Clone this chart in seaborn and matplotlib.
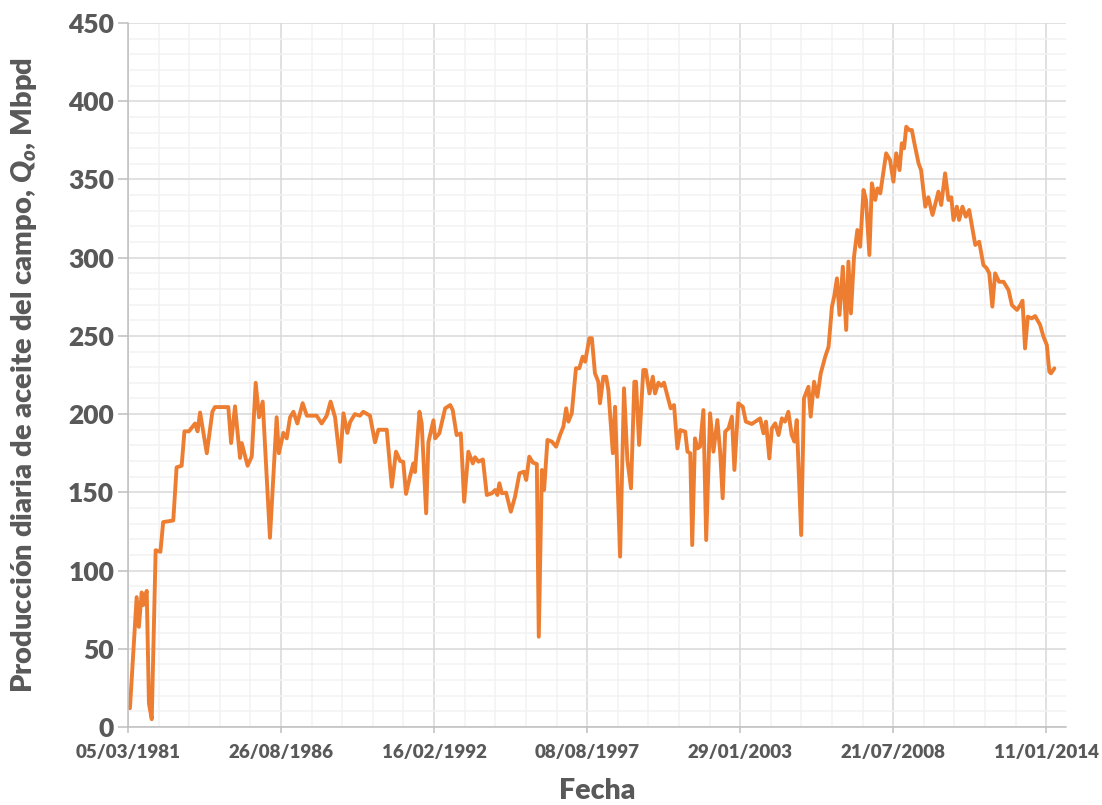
import matplotlib
matplotlib.use("Agg")
import matplotlib.pyplot as plt
import matplotlib.dates as mdates
import matplotlib.ticker as mticker
import numpy as np
import pandas as pd
import seaborn as sns

# fecha en años decimales
anio = [
    1981.24, 1981.48, 1981.56, 1981.66, 1981.72, 1981.84, 1981.92, 1982.02, 1982.16, 1982.33,
    1982.43, 1982.79, 1982.91, 1983.09, 1983.19, 1983.35, 1983.57, 1983.66, 1983.75, 1983.99,
    1984.19, 1984.28, 1984.76, 1984.86, 1985.00, 1985.18, 1985.24, 1985.45, 1985.60, 1985.74,
    1985.86, 1985.99, 1986.25, 1986.49, 1986.57, 1986.73, 1986.85, 1986.97, 1987.09, 1987.23,
    1987.42, 1987.57, 1987.92, 1988.10, 1988.28, 1988.42, 1988.58, 1988.76, 1988.88, 1989.02,
    1989.12, 1989.29, 1989.47, 1989.59, 1989.83, 1990.01, 1990.13, 1990.43, 1990.61, 1990.76,
    1990.91, 1991.02, 1991.12, 1991.26, 1991.38, 1991.44, 1991.60, 1991.68, 1991.84, 1991.92,
    1992.10, 1992.16, 1992.31, 1992.52, 1992.70, 1992.79, 1992.93, 1993.08, 1993.20, 1993.35,
    1993.51, 1993.59, 1993.71, 1993.87, 1994.01, 1994.19, 1994.31, 1994.39, 1994.46, 1994.55,
    1994.70, 1994.87, 1995.02, 1995.18, 1995.34, 1995.42, 1995.53, 1995.66, 1995.80, 1995.87,
    1995.98, 1996.06, 1996.18, 1996.34, 1996.49, 1996.63, 1996.75, 1996.85, 1996.93, 1997.05,
    1997.20, 1997.32, 1997.44, 1997.53, 1997.68, 1997.77, 1997.88, 1998.00, 1998.06, 1998.18,
    1998.28, 1998.36, 1998.52, 1998.60, 1998.78, 1998.92, 1999.04, 1999.17, 1999.29, 1999.35,
    1999.46, 1999.61, 1999.70, 1999.83, 1999.95, 2000.03, 2000.15, 2000.25, 2000.35, 2000.45,
    2000.59, 2000.71, 2000.83, 2000.93, 2001.11, 2001.19, 2001.29, 2001.36, 2001.46, 2001.55,
    2001.64, 2001.76, 2001.86, 2002.00, 2002.12, 2002.26, 2002.36, 2002.45, 2002.54, 2002.66,
    2002.78, 2002.87, 2003.01, 2003.17, 2003.28, 2003.49, 2003.67, 2003.79, 2003.91, 2004.00,
    2004.12, 2004.21, 2004.33, 2004.45, 2004.57, 2004.68, 2004.80, 2004.92, 2005.02, 2005.10,
    2005.26, 2005.36, 2005.52, 2005.60, 2005.72, 2005.84, 2005.96, 2006.12, 2006.24, 2006.36,
    2006.44, 2006.54, 2006.63, 2006.75, 2006.87, 2006.95, 2007.04, 2007.15, 2007.27, 2007.37,
    2007.49, 2007.58, 2007.70, 2007.79, 2007.91, 2007.99, 2008.09, 2008.30, 2008.44, 2008.56,
    2008.66, 2008.78, 2008.86, 2008.94, 2009.02, 2009.13, 2009.22, 2009.30, 2009.46, 2009.55,
    2009.70, 2009.81, 2009.96, 2010.17, 2010.27, 2010.41, 2010.53, 2010.63, 2010.71, 2010.83,
    2010.91, 2011.03, 2011.15, 2011.27, 2011.49, 2011.63, 2011.78, 2011.90, 2011.99, 2012.10,
    2012.20, 2012.34, 2012.50, 2012.68, 2012.80, 2012.98, 2013.10, 2013.18, 2013.27, 2013.37,
    2013.51, 2013.63, 2013.81, 2013.93, 2014.05, 2014.14, 2014.20, 2014.32,
]

# produccion diaria de aceite, Mbpd
qo = [
    12, 83, 64, 86, 78, 87, 15, 5, 113, 112,
    131, 132, 166, 167, 189, 189, 194, 189, 201, 175,
    201.5, 204.5, 204.5, 181.5, 205, 172, 181.5, 167, 173, 220,
    198, 208, 121, 198, 175, 188, 184.5, 198, 201.5, 194,
    207, 199, 199, 194, 199, 208, 198, 169.5, 200.5, 188,
    195, 200, 199, 201.5, 199, 182, 190, 190, 153.6, 176,
    170, 169.5, 149, 160, 168.5, 163, 201.5, 194, 136.6, 182,
    196, 184.5, 187.7, 203.7, 205.8, 202.6, 186.6, 187.7, 144, 176,
    168.5, 172.4, 169.6, 171, 148.3, 149.4, 151.5, 148.3, 155.8, 149.4,
    149.8, 137.6, 147.2, 162.2, 163.2, 157.9, 172.8, 169, 168.1, 57.7,
    164.3, 151.5, 183.5, 182.4, 179.2, 186.6, 192, 203.7, 195.2, 200.5,
    229.3, 229.3, 236.7, 233.5, 248.5, 248.5, 226.1, 220.7, 206.9, 223.9,
    223.9, 215.4, 175, 204.7, 108.9, 216.5, 170.7, 152.6, 220.7, 220.7,
    180.3, 228.2, 228.2, 213.2, 223.9, 213.2, 220.1, 218, 220.1, 213.2,
    203.7, 205.8, 178.1, 189.8, 188.8, 176, 175, 116.3, 184.5, 178.1,
    179.2, 202.6, 119.5, 200.5, 176, 196.2, 176, 146.2, 188.8, 190.9,
    198.4, 164.3, 206.9, 204.7, 195.2, 193.7, 195.8, 197.3, 187.7, 195.2,
    171.7, 190.9, 194.1, 186.6, 197.3, 195.2, 201.5, 186.6, 182.4, 196.2,
    122.7, 210.1, 217.5, 198.4, 220.7, 211.1, 226.1, 236.7, 243.1, 268.7,
    275.1, 286.8, 263.4, 294.2, 253.8, 297.5, 264.4, 300.6, 317.7, 307,
    343.3, 336.9, 301.7, 347.5, 336.9, 344.3, 341.1, 366.7, 362.4, 348.6,
    366.7, 356, 373.1, 369.9, 383.7, 381.6, 381.6, 374.1, 360.3, 356,
    332.6, 338.6, 327.3, 342.2, 333.7, 353.9, 336.9, 338.6, 324.1, 332.6,
    324.1, 332.6, 326.2, 330.5, 308.1, 310.2, 295.3, 293.2, 290, 268.7,
    290, 284.6, 284.6, 279.3, 269.7, 266.6, 269.7, 272.5, 242, 262.3,
    261.2, 262.7, 257, 249.5, 244.2, 227.1, 226.1, 229.3,
]

fecha_inicio = pd.Timestamp("1981-03-05")
fecha_fin = fecha_inicio + pd.Timedelta(days=12260)
y_ticks = [0, 50, 100, 150, 200, 250, 300, 350, 400, 450]

df = pd.DataFrame({"anio": anio, "qo": qo})
df["fecha"] = pd.Timestamp("1981-01-01") + pd.to_timedelta((df["anio"] - 1981) * 365.25, unit="D")

sns.set_theme(style="white")
plt.rcParams["font.family"] = ["Lato", "DejaVu Sans"]
plt.rcParams["mathtext.fontset"] = "custom"
plt.rcParams["mathtext.it"] = "Lato:italic:heavy"
plt.rcParams["mathtext.rm"] = "Lato:heavy"

gris_txt = "#595959"
gris_eje = "#BFBFBF"

fig = plt.figure(figsize=(11.02, 8.05), dpi=100)
ax = fig.add_axes([0.1162, 0.0969, 0.8512, 0.8745])

sns.lineplot(data=df, x="fecha", y="qo", color="#ED7D31", linewidth=2.8, ax=ax)
for ln in ax.lines:
    ln.set_solid_joinstyle("round")

# ejes y rejilla (estilo excel)
ax.set_ylim(0, 450)
ax.set_xlim(fecha_inicio, fecha_fin)
ax.yaxis.set_major_locator(mticker.FixedLocator(y_ticks))
ax.yaxis.set_minor_locator(mticker.MultipleLocator(10))

x0 = mdates.date2num(fecha_inicio)
ax.xaxis.set_major_locator(mticker.FixedLocator([x0 + 2000 * k for k in range(7)]))
ax.xaxis.set_minor_locator(mticker.FixedLocator([x0 + 400 * k for k in range(31)]))
ax.xaxis.set_major_formatter(mdates.DateFormatter("%d/%m/%Y"))

ax.set_axisbelow(True)
ax.grid(which="minor", color="#F2F2F2", linewidth=1.1)
ax.grid(which="major", color="#D9D9D9", linewidth=1.1)

for s in ["top", "right"]:
    ax.spines[s].set_visible(False)
for s in ["left", "bottom"]:
    ax.spines[s].set_color(gris_eje)
    ax.spines[s].set_linewidth(1.1)

ax.tick_params(axis="y", which="major", direction="out", length=7, width=1.1,
               color=gris_eje, pad=3, labelsize=19, labelcolor=gris_txt, left=True)
ax.tick_params(axis="x", which="major", direction="out", length=4.5, width=1.1,
               color=gris_eje, pad=8, labelsize=13.5, labelcolor=gris_txt, bottom=True)
ax.tick_params(which="minor", length=0)
for lab in ax.get_xticklabels() + ax.get_yticklabels():
    lab.set_fontweight("heavy")

ax.set_xlabel("Fecha", fontsize=20.5, fontweight="heavy", color=gris_txt)
ax.set_ylabel("Producción diaria de aceite del campo, $Q_o$, Mbpd",
              fontsize=21, fontweight="heavy", color=gris_txt)
ax.xaxis.set_label_coords(0.5, -0.073)
ax.yaxis.set_label_coords(-0.095, 0.5)

fig.savefig("out.png", dpi=100)
